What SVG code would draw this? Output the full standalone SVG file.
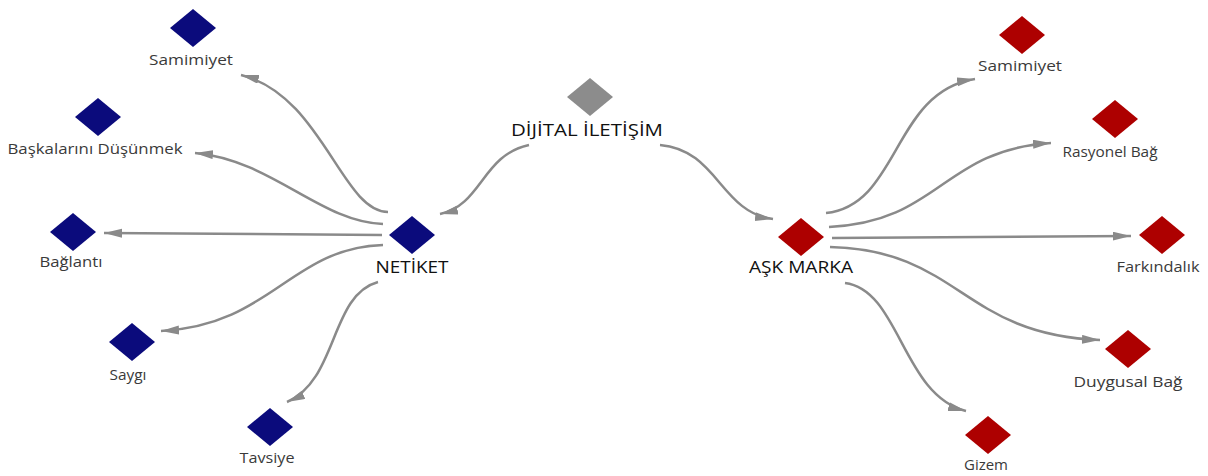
<svg xmlns="http://www.w3.org/2000/svg" width="1208" height="476" viewBox="0 0 1208 476">
<style>
.bg{fill:#ffffff}
.blue{fill:#0b0b7c}
.red{fill:#ad0000}
.gray{fill:#8c8c8c}
.lbl{font-family:"Open Sans","Liberation Sans",sans-serif;font-size:14px;fill:#3a3a3a;text-anchor:middle}
.main{font-family:"Open Sans","Liberation Sans",sans-serif;font-size:15.5px;fill:#111111;text-anchor:middle}
.edge{fill:none;stroke:#8a8a8a;stroke-width:2.5;marker-end:url(#arr)}
</style>
<defs>
<marker id="arr" markerUnits="userSpaceOnUse" markerWidth="20" markerHeight="10" refX="18" refY="4.5" orient="auto">
<path d="M0,0 L18,4.5 L0,9 z" fill="#8a8a8a"/>
</marker>
<path id="dia" d="M0,-19 L23,0 L0,19 L-23,0 z"/>
</defs>
<rect class="bg" x="0" y="0" width="1208" height="476"/>
<g id="connectors">
<path class="edge" d="M529,145 C482,155 482,205 440,214"/>
<path class="edge" d="M660,145 C718,150 720,212 773,219"/>
<path class="edge" d="M388,212 C342,212 322,95 241,75"/>
<path class="edge" d="M383,224 C320,222 272,160 195,153"/>
<path class="edge" d="M382,235 L104,233"/>
<path class="edge" d="M383,245 C290,248 272,325 161,331"/>
<path class="edge" d="M378,282 C330,295 338,380 287,402"/>
<path class="edge" d="M826,213 C900,205 892,92 975,79"/>
<path class="edge" d="M829,227 C940,222 942,150 1051,143"/>
<path class="edge" d="M832,238 L1131,236"/>
<path class="edge" d="M830,247 C960,250 962,335 1100,340"/>
<path class="edge" d="M845,283 C900,290 902,395 966,411"/>
</g>
<g id="dijital"><use href="#dia" class="gray" x="590" y="97"/><text class="main" x="587" y="136" textLength="152" lengthAdjust="spacingAndGlyphs">DİJİTAL İLETİŞİM</text></g>
<g id="netiket"><use href="#dia" class="blue" x="412" y="235"/><text class="main" x="412" y="273" textLength="73" lengthAdjust="spacingAndGlyphs">NETİKET</text></g>
<g id="askmarka"><use href="#dia" class="red" x="801" y="237"/><text class="main" x="801" y="273" textLength="104" lengthAdjust="spacingAndGlyphs">AŞK MARKA</text></g>
<g id="l-samimiyet"><use href="#dia" class="blue" x="193" y="28"/><text class="lbl" x="191" y="65" textLength="84" lengthAdjust="spacingAndGlyphs">Samimiyet</text></g>
<g id="l-baskalarini"><use href="#dia" class="blue" x="98" y="117"/><text class="lbl" x="95" y="154" textLength="175" lengthAdjust="spacingAndGlyphs">Başkalarını Düşünmek</text></g>
<g id="l-baglanti"><use href="#dia" class="blue" x="73" y="232"/><text class="lbl" x="71" y="267" textLength="63" lengthAdjust="spacingAndGlyphs">Bağlantı</text></g>
<g id="l-saygi"><use href="#dia" class="blue" x="132" y="342"/><text class="lbl" x="128" y="380" textLength="37" lengthAdjust="spacingAndGlyphs">Saygı</text></g>
<g id="l-tavsiye"><use href="#dia" class="blue" x="270" y="427"/><text class="lbl" x="267" y="463" textLength="55" lengthAdjust="spacingAndGlyphs">Tavsiye</text></g>
<g id="r-samimiyet"><use href="#dia" class="red" x="1022" y="35"/><text class="lbl" x="1020" y="71" textLength="84" lengthAdjust="spacingAndGlyphs">Samimiyet</text></g>
<g id="r-rasyonel"><use href="#dia" class="red" x="1115" y="119"/><text class="lbl" x="1110" y="157" textLength="95" lengthAdjust="spacingAndGlyphs">Rasyonel Bağ</text></g>
<g id="r-farkindalik"><use href="#dia" class="red" x="1162" y="235"/><text class="lbl" x="1158" y="272" textLength="83" lengthAdjust="spacingAndGlyphs">Farkındalık</text></g>
<g id="r-duygusal"><use href="#dia" class="red" x="1128" y="349"/><text class="lbl" x="1128" y="387" textLength="109" lengthAdjust="spacingAndGlyphs">Duygusal Bağ</text></g>
<g id="r-gizem"><use href="#dia" class="red" x="988" y="435"/><text class="lbl" x="986" y="470" textLength="44" lengthAdjust="spacingAndGlyphs">Gizem</text></g>
</svg>
